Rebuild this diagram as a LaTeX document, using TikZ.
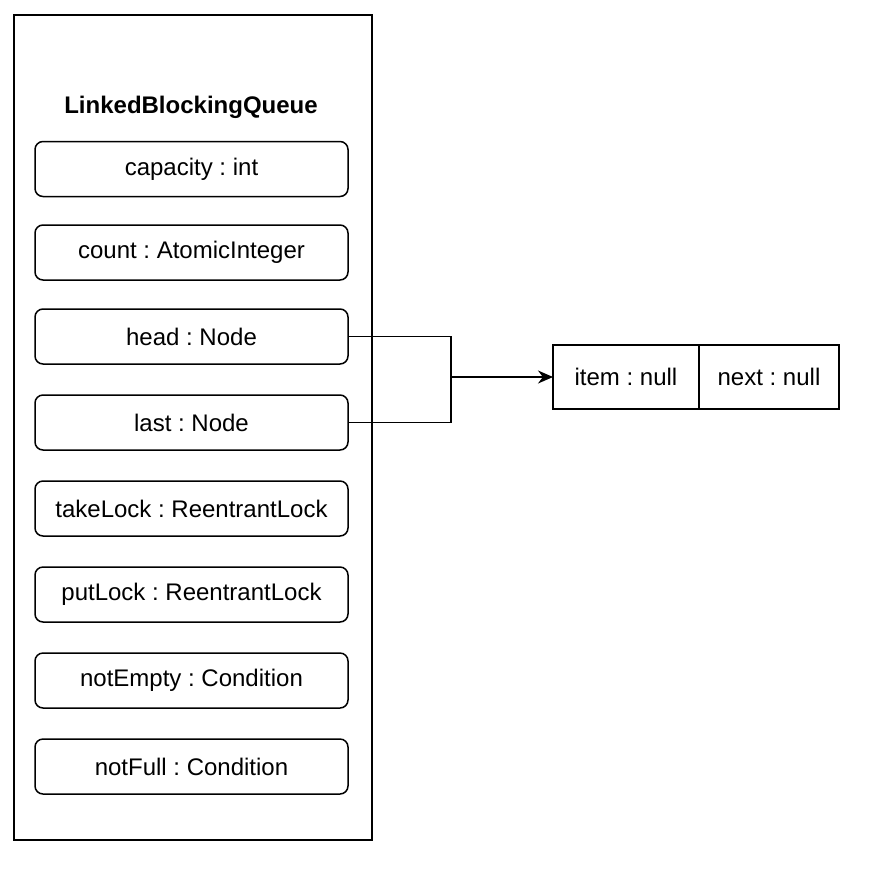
\documentclass[tikz,border=0pt]{standalone}
\usepackage{fontspec}
\setsansfont{Liberation Sans}
\usetikzlibrary{arrows.meta,positioning}
\frenchspacing

\begin{document}
\begin{tikzpicture}[
  x=0.5pt,y=-0.5pt,>={Stealth[length=7.5pt,width=6.5pt]},line width=0.75pt,
  font=\sffamily\fontsize{12}{14}\selectfont,
  field/.style={draw,rounded corners=4pt,minimum width=156.5pt,minimum height=27.5pt,
    inner sep=0pt,outer sep=0pt},
  cell/.style={draw,minimum height=32pt,inner sep=0pt,outer sep=0pt}]
  \useasboundingbox (0,0) rectangle (878,874);
  \node[draw,minimum width=179pt,minimum height=412.5pt] (lbq) at (193,427.5) {};
  \node[font=\sffamily\bfseries\fontsize{12}{14}\selectfont] (title) at (191,107) {LinkedBlockingQueue};
  \node[field] (capacity) at (191.5,169) {capacity : int};
  \node[field,below=14.25pt of capacity] (count) {count : AtomicInteger};
  \node[field,below=14.5pt of count] (head) {head : Node};
  \node[field,below=15.5pt of head] (last) {last : Node};
  \node[field,below=15.5pt of last] (takelock) {takeLock : ReentrantLock};
  \node[field,below=15.5pt of takelock] (putlock) {putLock : ReentrantLock};
  \node[field,below=15.5pt of putlock] (notempty) {notEmpty : Condition};
  \node[field,below=15.5pt of notempty] (notfull) {notFull : Condition};
  % node referenced by head and last
  \coordinate (join) at (451,377);
  \node[cell,minimum width=73pt,right=51pt of join] (item) {item : null};
  \node[cell,minimum width=70pt,right=0pt of item] (next) {next : null};
  \draw (head.east) -| (join);
  \draw (last.east) -| (join);
  \draw[->] (join) -- (item.west);
\end{tikzpicture}
\end{document}
